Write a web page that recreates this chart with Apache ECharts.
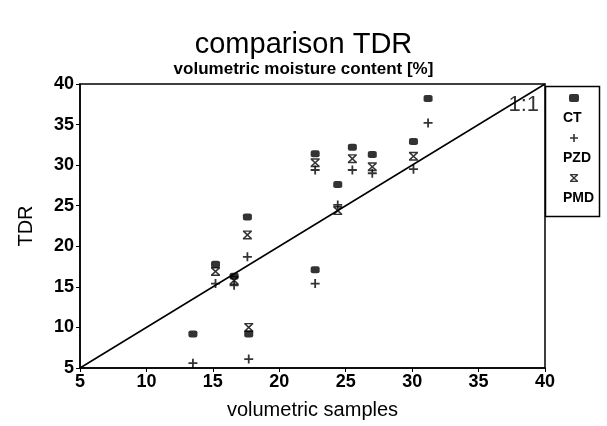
<!DOCTYPE html>
<html>
<head>
<meta charset="utf-8">
<script src="https://cdn.jsdelivr.net/npm/echarts@6/dist/echarts.min.js"></script>
<style>html,body{margin:0;padding:0;background:#fff;}#c{width:607px;height:426px;}</style>
</head>
<body>
<div id="c"></div>
<script>
const xSamples = [13.5, 15.2, 16.6, 17.6, 17.7, 22.7, 22.7, 24.4, 25.5, 27.0, 30.1, 31.2];
const ctValues = [9.2, 17.8, 16.3, 23.6, 9.2, 31.4, 17.1, 27.6, 32.2, 31.3, 32.9, 38.2];
const pzdValues = [5.6, 15.4, 15.2, 18.7, 6.1, 29.4, 15.4, 25.1, 29.4, 29.0, 29.5, 35.2];
const pmdValues = [null, 16.9, 15.8, 21.4, 10.0, 30.3, null, 24.4, 30.8, 29.8, 31.1, null];
const seriesNames = ['CT', 'PZD', 'PMD'];
const oneToOne = [[5, 5], [40, 40]];
const oneToOneLabelPos = [38.4, 37.4];
const axisMin = 5, axisMax = 40, axisStep = 5;

const FONT = 'Liberation Sans, Arial, sans-serif';
const plusPath = 'path://M4,0 L6,0 L6,4 L10,4 L10,6 L6,6 L6,10 L4,10 L4,6 L0,6 L0,4 L4,4 Z';
const hourPath = 'path://M0,0 L10,0 L10,1.6 L6.2,5 L10,8.4 L10,10 L0,10 L0,8.4 L3.8,5 L0,1.6 Z M2.6,1.6 L5,3.8 L7.4,1.6 Z M2.6,8.4 L7.4,8.4 L5,6.2 Z';

function pairs(vals) {
  return xSamples.map((x, i) => vals[i] == null ? null : [x, vals[i]]).filter(d => d);
}

const chart = echarts.init(document.getElementById('c'), null, {renderer: 'canvas'});
chart.setOption({
  animation: false,
  backgroundColor: '#fff',
  title: {
    text: 'comparison TDR',
    subtext: 'volumetric moisture content [%]',
    left: 'center', top: 25, itemGap: 2,
    textStyle: {fontFamily: FONT, fontSize: 29, fontWeight: 'normal', color: '#000'},
    subtextStyle: {fontFamily: FONT, fontSize: 17, fontWeight: 'bold', color: '#000'}
  },
  grid: {left: 80, top: 84, width: 465, height: 284, show: true, borderColor: '#000', borderWidth: 1.5, backgroundColor: 'transparent'},
  graphic: [{
    type: 'rect', right: 5, top: 84,
    shape: {width: 54, height: 130},
    style: {fill: 'none', stroke: '#000', lineWidth: 1.5}
  }],
  legend: [
    {
      orient: 'vertical', left: 569, top: 94,
      data: seriesNames, formatter: () => '',
      itemWidth: 10, itemHeight: 8, itemGap: 32, padding: 0,
      selectedMode: false
    },
    {
      orient: 'vertical', left: 558, top: 111,
      data: seriesNames, icon: 'rect',
      itemWidth: 0, itemHeight: 14, itemGap: 26, padding: 0,
      itemStyle: {opacity: 0},
      textStyle: {fontFamily: FONT, fontSize: 14, fontWeight: 'bold', color: '#000'},
      selectedMode: false
    }
  ],
  xAxis: {
    type: 'value', min: axisMin, max: axisMax, interval: axisStep,
    name: 'volumetric samples', nameLocation: 'middle', nameGap: 32,
    nameTextStyle: {fontFamily: FONT, fontSize: 20, color: '#000'},
    axisLine: {lineStyle: {color: '#000', width: 1.5}},
    axisTick: {show: true, length: 4, lineStyle: {color: '#000'}},
    axisLabel: {fontFamily: FONT, fontSize: 18, fontWeight: 'bold', color: '#000', margin: 5},
    splitLine: {show: false}
  },
  yAxis: {
    type: 'value', min: axisMin, max: axisMax, interval: axisStep,
    name: 'TDR', nameLocation: 'middle', nameGap: 44, nameRotate: 90,
    nameTextStyle: {fontFamily: FONT, fontSize: 20, color: '#000'},
    axisLine: {lineStyle: {color: '#000', width: 1.5}},
    axisTick: {show: true, length: 4, lineStyle: {color: '#000'}},
    axisLabel: {fontFamily: FONT, fontSize: 18, fontWeight: 'bold', color: '#000', margin: 6},
    splitLine: {show: false}
  },
  series: [
    {
      name: 'CT', type: 'scatter', data: pairs(ctValues),
      symbol: 'roundRect', symbolSize: [9, 7],
      itemStyle: {color: '#000'}
    },
    {
      name: 'PZD', type: 'scatter', data: pairs(pzdValues),
      symbol: plusPath, symbolSize: 9,
      itemStyle: {color: '#000'}
    },
    {
      name: 'PMD', type: 'scatter', data: pairs(pmdValues),
      symbol: hourPath, symbolSize: [9, 9],
      itemStyle: {color: '#000'}
    },
    {
      name: '1:1', type: 'line', data: oneToOne, symbol: 'none',
      lineStyle: {color: '#000', width: 1.5}, silent: true
    },
    {
      name: 'label', type: 'scatter', data: [oneToOneLabelPos], symbolSize: 0,
      label: {show: true, formatter: '1:1', position: 'inside', fontFamily: FONT, fontSize: 22, color: '#000'},
      silent: true
    }
  ]
});
</script>
</body>
</html>
